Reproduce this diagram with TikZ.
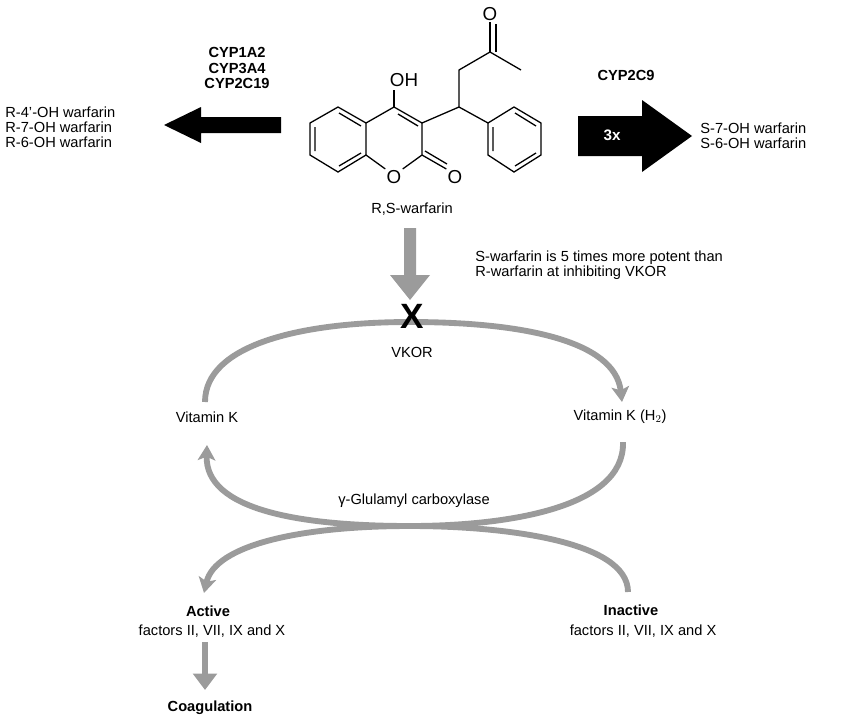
\documentclass[tikz,border=0pt]{standalone}
\usepackage{fontspec}
\setmainfont{Liberation Sans}
\usetikzlibrary{arrows.meta}
\begin{document}
\begin{tikzpicture}[x=0.03cm,y=-0.03cm,
  bond/.style={line width=1.1pt},
  cyc/.style={draw=gray!95!black!75, line width=5pt, -{Stealth[length=13pt,width=15pt,inset=3pt]}},
  lbl/.style={font=\fontsize{12.5}{14}\selectfont, inner sep=1pt},
  blbl/.style={font=\fontsize{12.5}{14}\selectfont\bfseries, inner sep=1pt},
  atom/.style={font=\fontsize{16}{18}\selectfont, inner sep=1pt}]
\useasboundingbox (0,0) rectangle (850,720);
% --- molecule
\coordinate (a1) at (338,107); \coordinate (a2) at (310,123); \coordinate (a3) at (310,155);
\coordinate (a4) at (338,172); \coordinate (a5) at (366,155); \coordinate (a6) at (366,123);
\draw[bond] (a1)--(a2)--(a3)--(a4)--(a5)--(a6)--cycle;
\draw[bond] (315,127)--(315,151) (339,113)--(361,126) (339,166)--(361,153);
\coordinate (c4) at (394,107); \coordinate (c3) at (422,123); \coordinate (c2) at (422,155);
\node[atom] (o1) at (394,177) {O};
\node[atom] (oh) at (404,80) {OH};
\node[atom] (o2) at (455,177) {O};
\draw[bond] (a6)--(c4)--(c3)--(c2)--(o1.north east) (a5)--(o1.north west);
\draw[bond] (398,114)--(418,126);
\draw[bond] (c4)--(394,90);
\draw[bond] (c2)--(o2.north west) (425,151)--(447,164);
\coordinate (ch) at (459,107); \coordinate (ch2) at (459,70); \coordinate (co) at (490,52);
\node[atom] (o3) at (490,14) {O};
\draw[bond] (c3)--(ch)--(ch2)--(co)--(521,70);
\draw[bond] (co)--(o3.south) (496,52)--(496,24);
\coordinate (p1) at (514,107); \coordinate (p2) at (488,123); \coordinate (p3) at (488,155);
\coordinate (p4) at (514,172); \coordinate (p5) at (541,155); \coordinate (p6) at (541,123);
\draw[bond] (ch)--(p2);
\draw[bond] (p1)--(p2)--(p3)--(p4)--(p5)--(p6)--cycle;
\draw[bond] (493,127)--(493,151) (515,113)--(536,126) (515,166)--(536,153);
\node[lbl] (rs) at (412,209) {R,S-warfarin};
% --- left metabolism
\node[blbl,align=center] (cypl) at (237,68) {CYP1A2\\[-1pt]CYP3A4\\[-1pt]CYP2C19};
\node[lbl,align=left,anchor=west] (rprod) at (4,127) {R-4'-OH warfarin\\[-1pt]R-7-OH warfarin\\[-1pt]R-6-OH warfarin};
\coordinate (la) at (281,125); \coordinate (lb) at (164,125);
\fill (la)++(0,-8) -- ++(-80,0) -- ++(0,-10) -- (lb) -- (201,143) -- ++(0,-10) -- ++(80,0) -- cycle;
% --- right metabolism
\node[blbl] (cypr) at (626,75) {CYP2C9};
\fill (578,116) -- (642,116) -- (642,100) -- (692,136) -- (642,172) -- (642,156) -- (578,156) -- cycle;
\node[blbl,text=white,font=\fontsize{13}{14}\selectfont\bfseries] (x3) at (612,135) {3x};
\node[lbl,align=left,anchor=west] (sprod) at (699,136) {S-7-OH warfarin\\[-1pt]S-6-OH warfarin};
% --- inhibition
\node[lbl,align=left,anchor=west] (pot) at (474,265) {S-warfarin is 5 times more potent than\\[-1pt]R-warfarin at inhibiting VKOR};
\fill[gray!95!black!75] (404,228) -- (416,228) -- (416,275) -- (430,275) -- (410,300) -- (390,275) -- (404,275) -- cycle;
% --- cycle
\node[lbl] (vk) at (207,417) {Vitamin K};
\node[lbl] (vkh) at (620,417) {Vitamin K (H$_2$)};
\node[lbl] (vkor) at (412,352) {VKOR};
\node[lbl] (gg) at (414,501) {γ-Glulamyl carboxylase};
\draw[cyc] (205,402) .. controls (205,345) and (300,322) .. (410,322) .. controls (520,322) and (615,340) .. (622,402);
\node[font=\fontsize{30}{32}\selectfont\bfseries] (x) at (412,316) {X};
\draw[cyc] (623,442) .. controls (625,510) and (500,526) .. (410,526) .. controls (300,526) and (205,510) .. (207,445);
\draw[cyc] (628,592) .. controls (628,540) and (500,526) .. (410,526) .. controls (300,526) and (215,545) .. (204,593);
% --- bottom
\node[blbl] (act) at (208,611) {Active};
\node[lbl] (actf) at (212,631) {factors II, VII, IX and X};
\node[blbl] (inact) at (631,610) {Inactive};
\node[lbl] (inactf) at (643,631) {factors II, VII, IX and X};
\node[blbl] (coag) at (210,708) {Coagulation};
\draw[draw=gray!95!black!75, line width=5pt, -{Triangle[length=14pt,width=20pt]}] (205,642) -- (205,690);
\end{tikzpicture}
\end{document}
